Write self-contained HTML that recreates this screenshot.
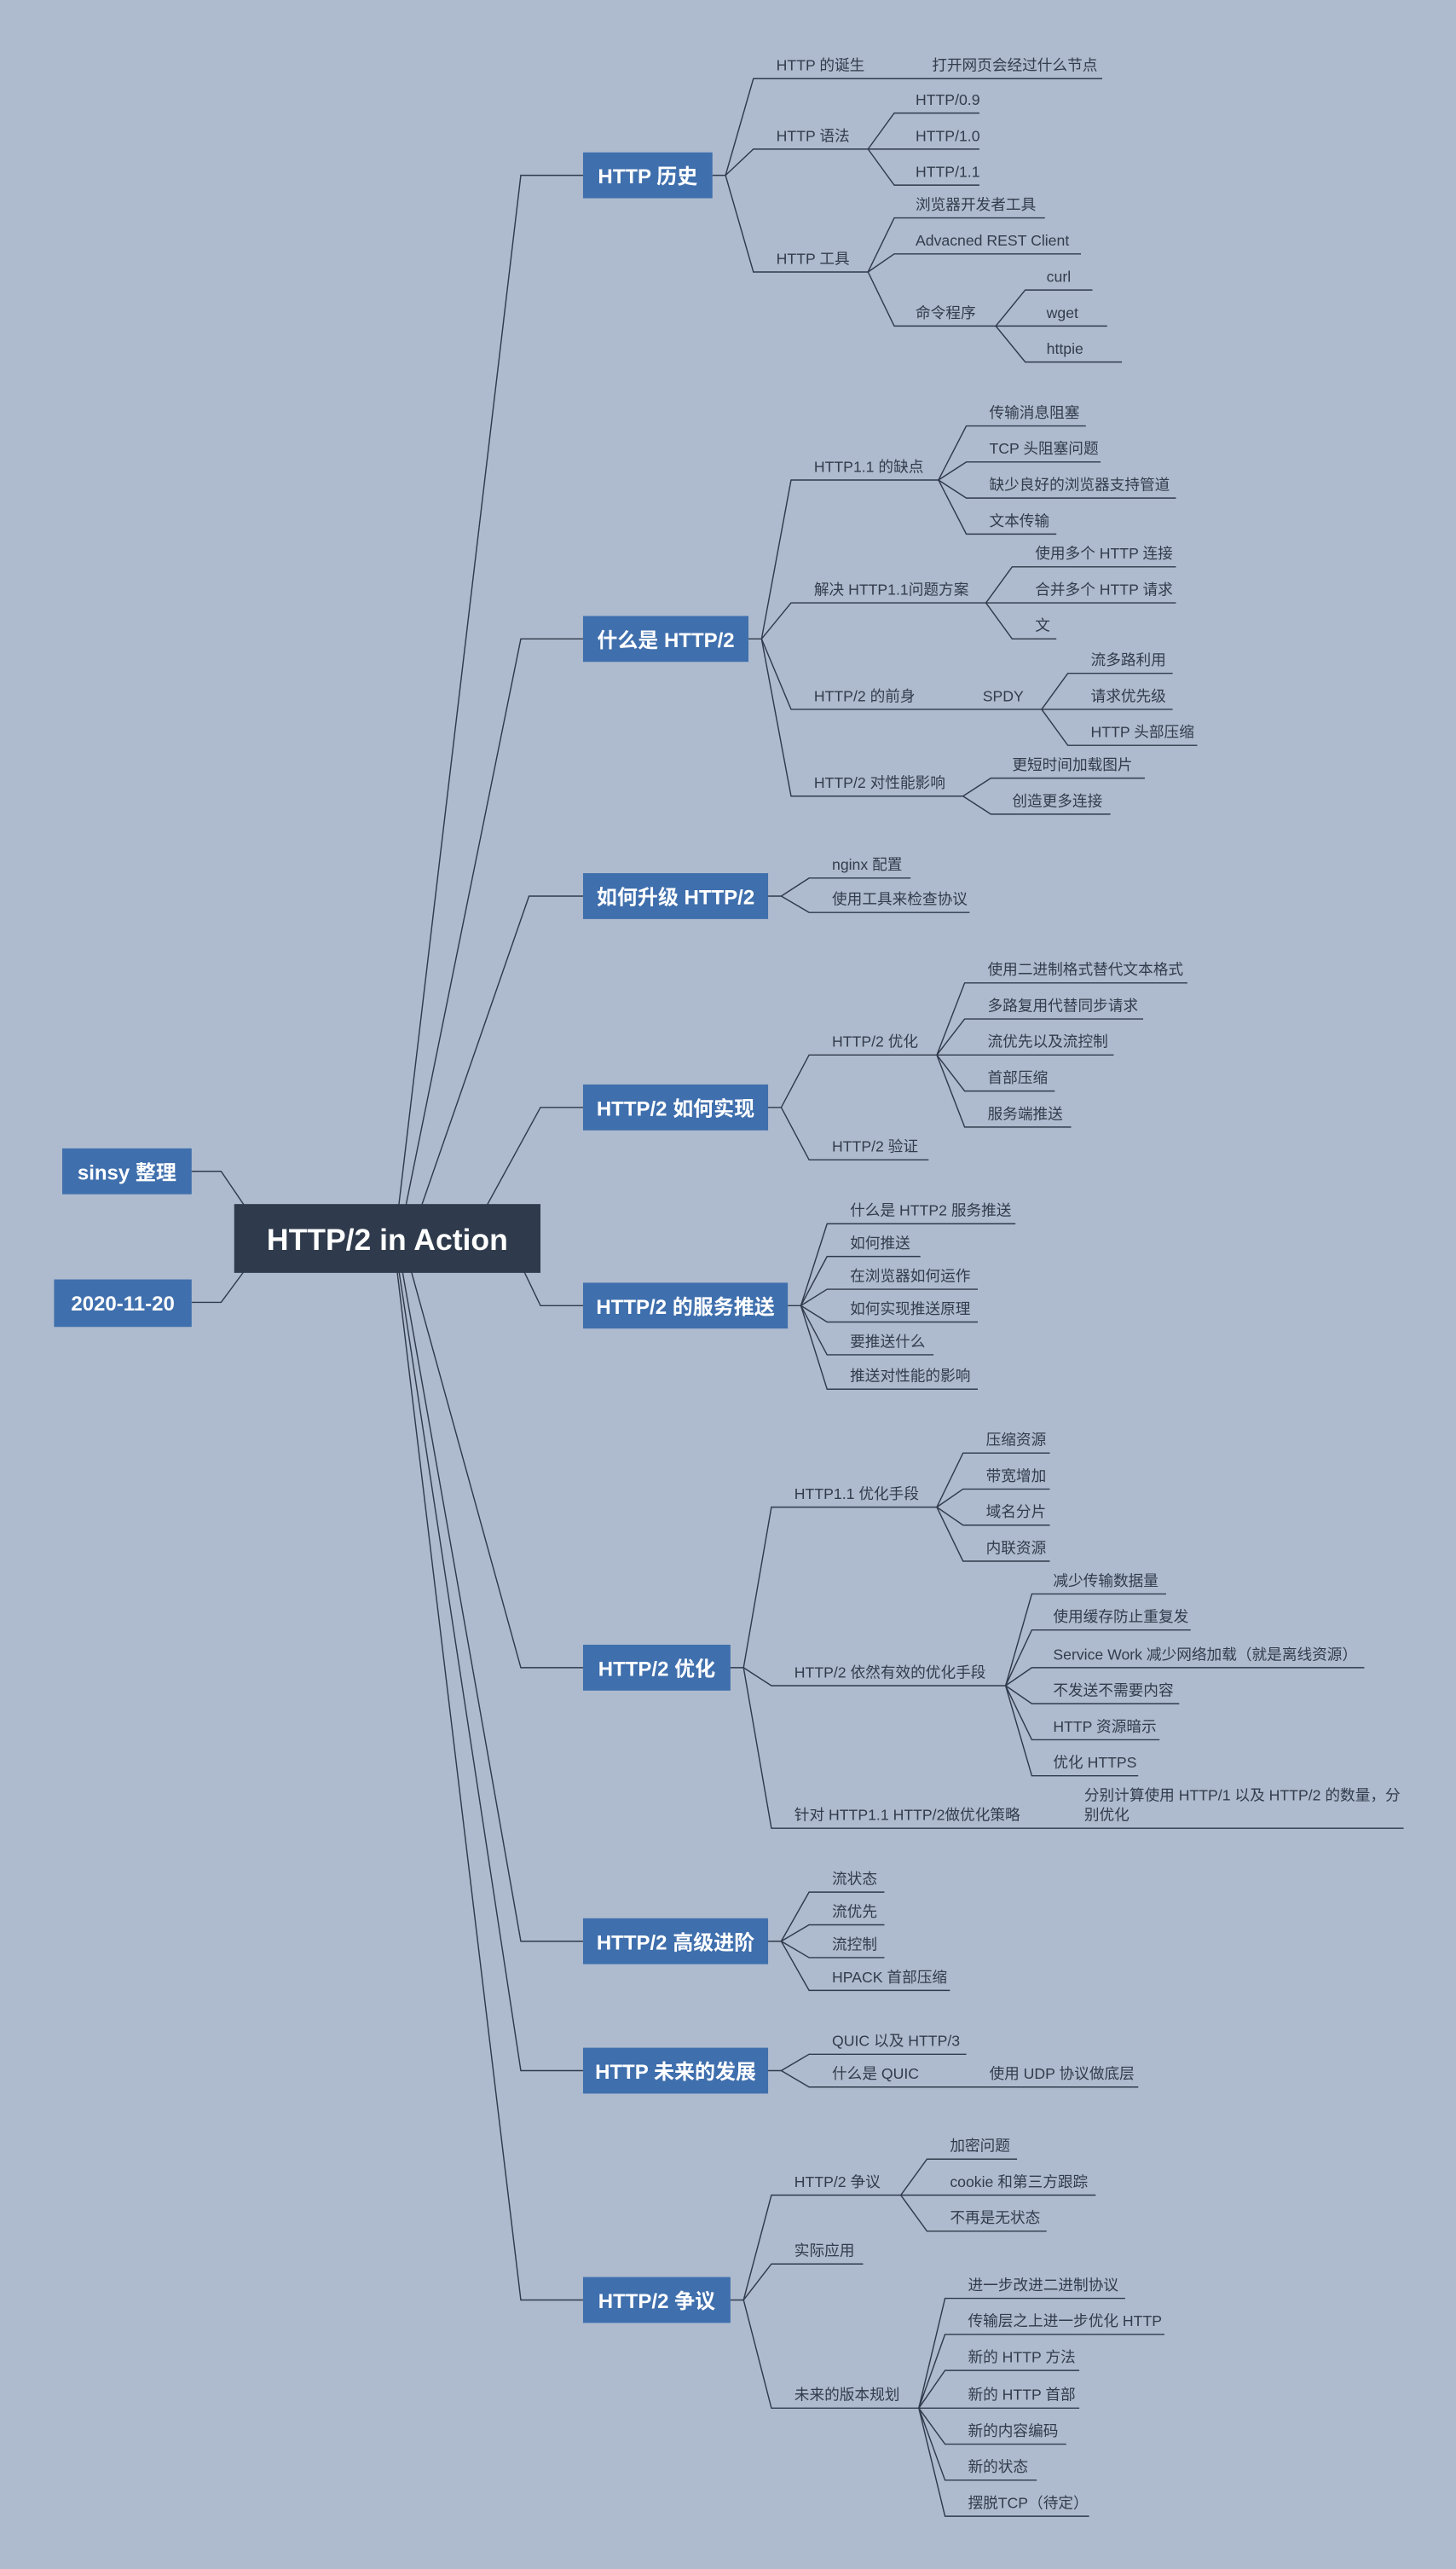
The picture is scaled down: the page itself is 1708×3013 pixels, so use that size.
<!DOCTYPE html>
<html><head><meta charset="utf-8"><style>
html,body{margin:0;padding:0;background:#aebbce;}
svg{display:block}
.l{fill:none;stroke:#2f3b4c;stroke-width:0.75}
.t{font-family:"Liberation Sans","Noto Sans CJK SC",sans-serif;font-size:9.2px;fill:#323c4c}
.n{fill:#3f6fad}
.w{font-family:"Liberation Sans","Noto Sans CJK SC",sans-serif;font-size:12.5px;font-weight:bold;fill:#fff;text-anchor:middle}
</style></head><body>
<svg width="1708" height="3013" viewBox="0 0 889 1568.2" xmlns="http://www.w3.org/2000/svg">
<rect width="889" height="1569" fill="#aebbce"/>
<g class="l">
<path d="M243 740L318 107H356"/>
<path d="M247 740L318 390H356"/>
<path d="M256 740L323 547H356"/>
<path d="M295 740L330 676H356"/>
<path d="M318 772L330 797H356"/>
<path d="M250 772L318 1018H356"/>
<path d="M245 772L318 1185H356"/>
<path d="M243 772L318 1264H356"/>
<path d="M242 772L318 1404H356"/>
<path d="M117 715H135L152 740"/>
<path d="M117 795H135L152 772"/>
<path d="M435 107H443L460 48H673"/>
<path d="M443 107L460 91H530"/>
<path d="M443 107L460 166H530"/>
<path d="M530 91L546 69H598"/>
<path d="M530 91H598"/>
<path d="M530 91L546 113H598"/>
<path d="M530 166L546 133H638"/>
<path d="M530 166L546 155H660"/>
<path d="M530 166L546 199H608"/>
<path d="M608 199L626 177H667"/>
<path d="M608 199H676"/>
<path d="M608 199L626 221H685"/>
<path d="M457 390H465L483 293H573"/>
<path d="M465 390L483 368H602"/>
<path d="M465 390L483 433H636"/>
<path d="M465 390L483 486H588"/>
<path d="M573 293L590 260H663"/>
<path d="M573 293L590 282H672"/>
<path d="M573 293L590 304H718"/>
<path d="M573 293L590 326H645"/>
<path d="M602 368L618 346H718"/>
<path d="M602 368H718"/>
<path d="M602 368L618 390H645"/>
<path d="M636 433L652 411H716"/>
<path d="M636 433H716"/>
<path d="M636 433L652 455H731"/>
<path d="M588 486L605 475H699"/>
<path d="M588 486L605 497H678"/>
<path d="M469 547H477L494 536H556"/>
<path d="M477 547L494 557H592"/>
<path d="M469 676H477L494 644H572"/>
<path d="M477 676L494 708H567"/>
<path d="M572 644L589 600H725"/>
<path d="M572 644L589 622H698"/>
<path d="M572 644H680"/>
<path d="M572 644L589 666H644"/>
<path d="M572 644L589 688H654"/>
<path d="M481 797H489L505 747H620"/>
<path d="M489 797L505 767H562"/>
<path d="M489 797L505 787H597"/>
<path d="M489 797L505 807H597"/>
<path d="M489 797L505 827H570"/>
<path d="M489 797L505 848H597"/>
<path d="M446 1018H454L471 920H572"/>
<path d="M454 1018L471 1029H614"/>
<path d="M454 1018L471 1116H857"/>
<path d="M572 920L588 887H641"/>
<path d="M572 920L588 909H641"/>
<path d="M572 920L588 931H641"/>
<path d="M572 920L588 953H641"/>
<path d="M614 1029L630 973H712"/>
<path d="M614 1029L630 995H727"/>
<path d="M614 1029L630 1018H833"/>
<path d="M614 1029L630 1040H720"/>
<path d="M614 1029L630 1062H708"/>
<path d="M614 1029L630 1084H695"/>
<path d="M469 1185H477L494 1155H540"/>
<path d="M477 1185L494 1175H540"/>
<path d="M477 1185L494 1195H540"/>
<path d="M477 1185L494 1215H580"/>
<path d="M469 1264H477L494 1254H590"/>
<path d="M477 1264L494 1274H695"/>
<path d="M446 1404H454L471 1340H550"/>
<path d="M454 1404L471 1382H527"/>
<path d="M454 1404L471 1470H561"/>
<path d="M550 1340L566 1318H621"/>
<path d="M550 1340H669"/>
<path d="M550 1340L566 1362H639"/>
<path d="M561 1470L577 1403H687"/>
<path d="M561 1470L577 1425H711"/>
<path d="M561 1470L577 1447H659"/>
<path d="M561 1470H659"/>
<path d="M561 1470L577 1492H651"/>
<path d="M561 1470L577 1514H633"/>
<path d="M561 1470L577 1536H665"/>
</g>
<g class="t">
<text x="474" y="43">HTTP 的诞生</text><text x="569" y="43">打开网页会经过什么节点</text>
<text x="474" y="86">HTTP 语法</text><text x="474" y="161">HTTP 工具</text>
<text x="559" y="64">HTTP/0.9</text><text x="559" y="86">HTTP/1.0</text><text x="559" y="108">HTTP/1.1</text>
<text x="559" y="128">浏览器开发者工具</text><text x="559" y="150">Advacned REST Client</text><text x="559" y="194">命令程序</text>
<text x="639" y="172">curl</text><text x="639" y="194">wget</text><text x="639" y="216">httpie</text>
<text x="497" y="288">HTTP1.1 的缺点</text><text x="497" y="363">解决 HTTP1.1问题方案</text>
<text x="497" y="428">HTTP/2 的前身</text><text x="600" y="428">SPDY</text><text x="497" y="481">HTTP/2 对性能影响</text>
<text x="604" y="255">传输消息阻塞</text><text x="604" y="277">TCP 头阻塞问题</text><text x="604" y="299">缺少良好的浏览器支持管道</text><text x="604" y="321">文本传输</text>
<text x="632" y="341">使用多个 HTTP 连接</text><text x="632" y="363">合并多个 HTTP 请求</text><text x="632" y="385">文</text>
<text x="666" y="406">流多路利用</text><text x="666" y="428">请求优先级</text><text x="666" y="450">HTTP 头部压缩</text>
<text x="618" y="470">更短时间加载图片</text><text x="618" y="492">创造更多连接</text>
<text x="508" y="531">nginx 配置</text><text x="508" y="552">使用工具来检查协议</text>
<text x="508" y="639">HTTP/2 优化</text><text x="508" y="703">HTTP/2 验证</text>
<text x="603" y="595">使用二进制格式替代文本格式</text><text x="603" y="617">多路复用代替同步请求</text><text x="603" y="639">流优先以及流控制</text><text x="603" y="661">首部压缩</text><text x="603" y="683">服务端推送</text>
<text x="519" y="742">什么是 HTTP2 服务推送</text><text x="519" y="762">如何推送</text><text x="519" y="782">在浏览器如何运作</text><text x="519" y="802">如何实现推送原理</text><text x="519" y="822">要推送什么</text><text x="519" y="843">推送对性能的影响</text>
<text x="485" y="915">HTTP1.1 优化手段</text><text x="485" y="1024">HTTP/2 依然有效的优化手段</text><text x="485" y="1111">针对 HTTP1.1 HTTP/2做优化策略</text>
<text x="602" y="882">压缩资源</text><text x="602" y="904">带宽增加</text><text x="602" y="926">域名分片</text><text x="602" y="948">内联资源</text>
<text x="643" y="968">减少传输数据量</text><text x="643" y="990">使用缓存防止重复发</text><text x="643" y="1013">Service Work 减少网络加载（就是离线资源）</text><text x="643" y="1035">不发送不需要内容</text><text x="643" y="1057">HTTP 资源暗示</text><text x="643" y="1079">优化 HTTPS</text>
<text x="662" y="1099">分别计算使用 HTTP/1 以及 HTTP/2 的数量，分</text><text x="662" y="1111">别优化</text>
<text x="508" y="1150">流状态</text><text x="508" y="1170">流优先</text><text x="508" y="1190">流控制</text><text x="508" y="1210">HPACK 首部压缩</text>
<text x="508" y="1249">QUIC 以及 HTTP/3</text><text x="508" y="1269">什么是 QUIC</text><text x="604" y="1269">使用 UDP 协议做底层</text>
<text x="485" y="1335">HTTP/2 争议</text><text x="485" y="1377">实际应用</text><text x="485" y="1465">未来的版本规划</text>
<text x="580" y="1313">加密问题</text><text x="580" y="1335">cookie 和第三方跟踪</text><text x="580" y="1357">不再是无状态</text>
<text x="591" y="1398">进一步改进二进制协议</text><text x="591" y="1420">传输层之上进一步优化 HTTP</text><text x="591" y="1442">新的 HTTP 方法</text><text x="591" y="1465">新的 HTTP 首部</text><text x="591" y="1487">新的内容编码</text><text x="591" y="1509">新的状态</text><text x="591" y="1531">摆脱TCP（待定）</text>
</g>
<rect x="143" y="735" width="187" height="42" fill="#2f3b4c"/>
<text x="236.5" y="763" class="w" style="font-size:18.5px">HTTP/2 in Action</text>
<rect class="n" x="38" y="701" width="79" height="28"/><text class="w" x="77.5" y="720">sinsy 整理</text>
<rect class="n" x="33" y="781" width="84" height="29"/><text class="w" x="75" y="800">2020-11-20</text>
<rect class="n" x="356" y="93" width="79" height="28"/><text class="w" x="395.5" y="112">HTTP 历史</text>
<rect class="n" x="356" y="376" width="101" height="28"/><text class="w" x="406.5" y="395">什么是 HTTP/2</text>
<rect class="n" x="356" y="533" width="113" height="28"/><text class="w" x="412.5" y="552">如何升级 HTTP/2</text>
<rect class="n" x="356" y="662" width="113" height="28"/><text class="w" x="412.5" y="681">HTTP/2 如何实现</text>
<rect class="n" x="356" y="783" width="125" height="28"/><text class="w" x="418.5" y="802">HTTP/2 的服务推送</text>
<rect class="n" x="356" y="1004" width="90" height="28"/><text class="w" x="401" y="1023">HTTP/2 优化</text>
<rect class="n" x="356" y="1171" width="113" height="28"/><text class="w" x="412.5" y="1190">HTTP/2 高级进阶</text>
<rect class="n" x="356" y="1250" width="113" height="28"/><text class="w" x="412.5" y="1269">HTTP 未来的发展</text>
<rect class="n" x="356" y="1390" width="90" height="28"/><text class="w" x="401" y="1409">HTTP/2 争议</text>
</svg>
</body></html>
